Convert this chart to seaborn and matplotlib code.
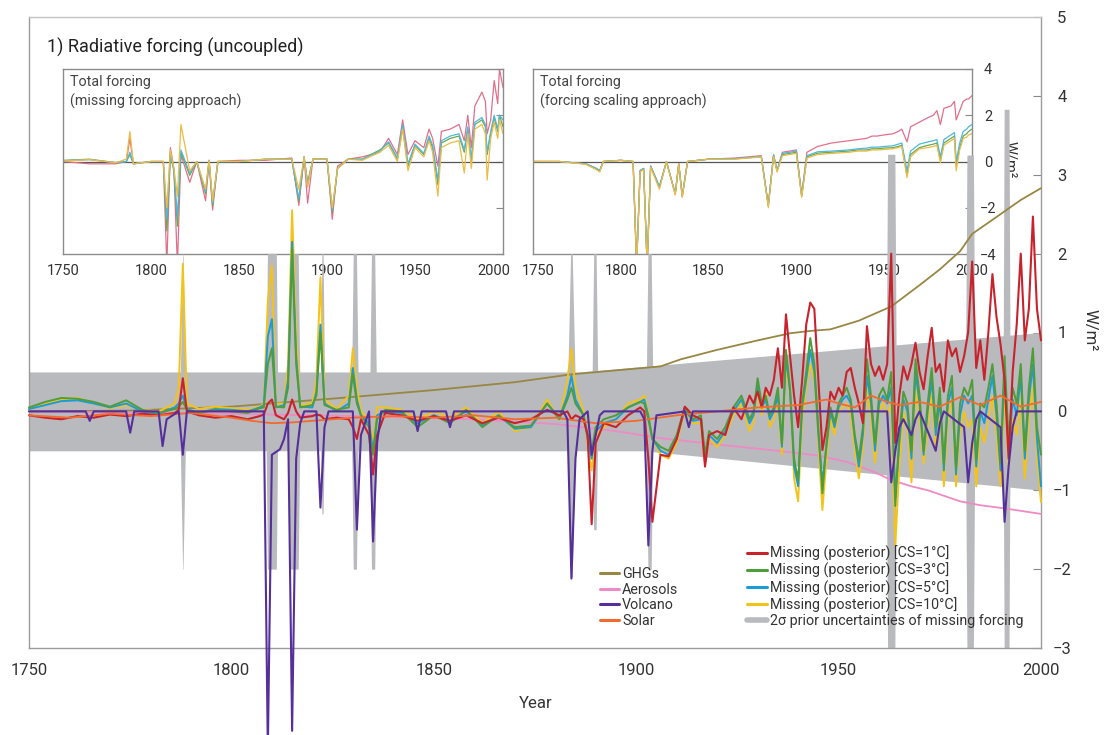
import matplotlib
matplotlib.use("Agg")
import matplotlib.pyplot as plt
import seaborn as sns
from matplotlib.lines import Line2D

# ---------------- data ----------------
XTICKS = [1750, 1800, 1850, 1900, 1950, 2000]

# Prior uncertainty band of the missing forcing (2 sigma)
BAND_YEARS = [1750, 1886, 1902, 2000]
BAND_UPPER = [0.5, 0.5, 0.57, 1.0]
BAND_LOWER = [-0.5, -0.5, -0.5, -1.0]

# Volcanic-year widening of the prior uncertainty
SPIKE_YEAR = [1788, 1810, 1815.5, 1822.5, 1830.5, 1835, 1884, 1889.8, 1903.3, 1963, 1982.5, 1991.5]
SPIKE_TOP = [2.0, 2.0, 2.0, 2.0, 2.0, 2.0, 2.0, 2.0, 2.0, 3.26, 3.25, 3.83]
SPIKE_BOTTOM = [-2.0, -2.0, -2.0, -1.3, -2.0, -2.0, -2.1, -1.5, -2.0, -3.0, -3.0, -3.0]
SPIKE_BASE_HW = [0.8, 1.5, 1.5, 0.6, 0.9, 0.9, 1.1, 0.8, 0.9, 1.3, 1.2, 0.9]
SPIKE_TIP_HW = [0.05, 1.1, 1.0, 0.15, 0.4, 0.4, 0.2, 0.3, 0.4, 0.9, 0.8, 0.6]

GHG_YEARS = [1750, 1775, 1800, 1827, 1850, 1870, 1884, 1895, 1906, 1911, 1920, 1930,
             1938, 1943, 1948, 1955, 1963, 1970, 1975, 1980, 1983, 1990, 1995, 2000]
GHG_VALS = [0.0, 0.01, 0.06, 0.17, 0.27, 0.37, 0.47, 0.52, 0.57, 0.66, 0.78, 0.9,
            0.99, 1.02, 1.04, 1.15, 1.33, 1.6, 1.8, 2.03, 2.25, 2.5, 2.68, 2.83]

AER_YEARS = [1750, 1800, 1830, 1860, 1880, 1895, 1906, 1920, 1935, 1945, 1952, 1958,
             1963, 1968, 1972, 1976, 1980, 1985, 1991, 2000]
AER_VALS = [0.0, -0.03, -0.06, -0.1, -0.16, -0.25, -0.34, -0.42, -0.5, -0.56, -0.64, -0.75,
            -0.87, -0.95, -1.0, -1.07, -1.14, -1.19, -1.23, -1.3]

SOLAR_YEARS = [1750, 1760, 1770, 1780, 1790, 1800, 1805, 1810, 1815, 1820, 1830, 1840,
               1850, 1860, 1870, 1880, 1890, 1900, 1910, 1920, 1930, 1940, 1947, 1950,
               1954, 1958, 1962, 1965, 1970, 1975, 1980, 1985, 1990, 1995, 2000]
SOLAR_VALS = [-0.05, -0.08, -0.03, -0.06, -0.02, -0.08, -0.12, -0.15, -0.14, -0.12, -0.08, -0.06,
              -0.08, -0.05, -0.1, -0.08, -0.15, -0.12, -0.05, 0.0, 0.05, 0.08, 0.15, 0.1,
              0.05, 0.2, 0.12, 0.08, 0.12, 0.06, 0.18, 0.08, 0.2, 0.06, 0.12]

VOLC_YEARS = [1750, 1764, 1765, 1766, 1774, 1775, 1776, 1782, 1783, 1784, 1787, 1788, 1789,
              1808, 1809, 1810, 1812, 1813, 1814, 1815, 1816, 1817, 1818, 1821, 1822, 1823,
              1824, 1830, 1831, 1832, 1834, 1835, 1836, 1837, 1845, 1846, 1847, 1853, 1854,
              1855, 1882, 1883, 1884, 1885, 1886, 1888, 1889, 1890, 1891, 1892, 1901, 1902,
              1903, 1904, 1905, 1912, 1913, 1914, 1962, 1963, 1964, 1965, 1966, 1968, 1969,
              1970, 1974, 1975, 1976, 1981, 1982, 1983, 1984, 1985, 1990, 1991, 1992, 1993,
              1994, 2000]
VOLC_VALS = [0, 0, -0.12, 0, 0, -0.27, 0, 0, -0.44, -0.1, 0, -0.55, 0,
             0, -4.3, -0.55, -0.48, -0.35, -0.1, -4.05, -0.6, -0.15, 0, 0, -1.22, -0.2,
             0, 0, -1.5, -0.3, 0, -1.65, -0.4, 0, 0, -0.25, 0, 0, -0.2,
             0, 0, -0.1, -2.12, -0.6, -0.1, 0, -0.55, -0.3, -0.05, 0, 0, -0.1,
             -1.7, -0.5, -0.05, 0, -0.2, 0, 0, -0.9, -0.5, -0.2, -0.1, -0.3, -0.1,
             0, -0.5, -0.15, 0, -0.2, -0.9, -0.4, -0.1, 0, -0.2, -1.4, -0.7, -0.2,
             0, 0]

MISS_YEARS = ([1750, 1754, 1758, 1762, 1766, 1770, 1774, 1778, 1782, 1786,
               1787, 1788, 1789, 1792, 1796, 1800, 1804, 1807, 1808, 1809,
               1810, 1811, 1813, 1814, 1815, 1816, 1817, 1820, 1821, 1822,
               1823, 1826, 1829, 1830, 1831, 1832, 1834, 1835, 1836, 1838,
               1842, 1846, 1850, 1854, 1858, 1862, 1866, 1870, 1874, 1878,
               1881, 1883, 1884, 1885, 1887, 1888, 1889, 1890, 1892, 1895,
               1898, 1901, 1902, 1903, 1904,
               1906, 1908, 1910, 1912, 1914, 1916, 1917, 1918, 1920, 1922, 1924, 1926, 1928]
              + list(range(1929, 2001)))

MISS_CS1 = [-0.05, -0.08, -0.10, -0.06, -0.08, -0.04, -0.06, -0.03, -0.05, -0.02,
            0.02, 0.42, 0.00, -0.05, -0.08, -0.06, -0.10, -0.06, -0.04, 0.10,
            0.15, -0.05, -0.10, -0.02, 0.15, 0.00, -0.08, -0.06, -0.04, -0.05,
            -0.10, -0.08, -0.10, -0.20, -0.35, -0.10, -0.30, -0.80, -0.30, -0.02,
            -0.05, -0.12, -0.06, -0.12, -0.05, -0.15, -0.08, -0.15, -0.10, 0.02,
            -0.05, 0.00, -0.10, -0.05, -0.10, -0.30, -1.43, -0.40, -0.15, -0.20,
            -0.05, 0.05, 0.00, -0.60, -1.40,
            -0.55, -0.57, -0.35, 0.06, -0.05, -0.10, -0.70, -0.30, -0.25, -0.30, 0.05, -0.10, 0.20,
            0.10, 0.25, 0.05, 0.30, 0.20, 0.40, 0.80, 0.30, 1.23, 0.70,
            0.20, -0.20, 0.40, 1.10, 1.38, 1.30, 0.40, -0.49, -0.20, 0.25,
            0.15, 0.30, 0.20, 0.50, 0.55, 0.30, 0.10, -0.15, 1.08, 0.60,
            0.45, 0.57, 0.40, 0.60, 2.00, -0.40, 0.20, 0.57, 0.40, 0.60,
            0.87, 0.50, 0.28, 0.70, 1.06, 0.50, 0.60, 0.25, 0.90, 0.70,
            0.80, 0.50, 0.70, 1.00, 1.90, 0.55, 0.90, 0.40, 1.00, 1.74,
            1.20, 0.85, 0.40, -0.60, 0.50, 1.10, 2.00, 0.90, 1.30, 2.47,
            1.30, 0.90]

MISS_CS3 = [0.05, 0.12, 0.17, 0.16, 0.12, 0.06, 0.14, 0.02, -0.02, 0.03,
            0.06, 0.12, 0.02, -0.02, 0.02, 0.00, -0.02, 0.04, 0.05, 0.60,
            0.80, 0.06, 0.05, 0.30, 2.05, 0.60, 0.05, 0.08, 0.20, 1.00,
            0.08, 0.02, 0.05, 0.47, 0.10, -0.05, -0.20, -0.55, -0.10, 0.02,
            0.00, -0.20, -0.05, -0.15, 0.02, -0.20, -0.05, -0.20, -0.18, 0.10,
            -0.10, 0.15, 0.30, 0.10, -0.05, -0.30, -0.50, -0.20, -0.10, -0.05,
            0.05, 0.12, 0.10, -0.10, -0.35,
            -0.45, -0.50, -0.30, 0.05, -0.10, -0.05, -0.55, -0.25, -0.35, -0.20, 0.05, 0.20, -0.10,
            0.00, 0.42, 0.10, 0.20, -0.05, 0.05, 0.30, -0.40, 0.78, 0.30,
            -0.60, -0.87, 0.10, 0.50, 0.93, 0.60, -0.20, -1.04, -0.40, 0.05,
            -0.15, 0.10, 0.20, 0.30, 0.15, -0.30, -0.60, -0.20, 0.66, 0.20,
            -0.40, 0.20, 0.30, 0.15, 0.50, -1.20, -0.30, 0.25, 0.10, -0.50,
            0.66, 0.20, -0.50, 0.10, 0.55, -0.20, 0.30, -0.65, 0.20, 0.45,
            -0.70, 0.10, 0.30, 0.20, 0.40, -0.60, 0.10, 0.05, 0.30, 0.60,
            0.10, -0.65, 0.70, -0.40, 0.30, 0.10, 0.60, -0.50, 0.30, 0.80,
            -0.20, -0.55]

MISS_CS5 = [0.03, 0.08, 0.13, 0.14, 0.10, 0.05, 0.10, 0.00, -0.03, 0.05,
            0.10, 0.20, 0.03, -0.02, 0.03, 0.02, 0.00, 0.05, 0.08, 0.95,
            1.17, 0.05, 0.08, 0.40, 2.15, 0.70, 0.06, 0.05, 0.25, 1.10,
            0.10, 0.00, 0.10, 0.55, 0.15, -0.05, -0.15, -0.50, -0.05, 0.00,
            -0.02, -0.15, -0.05, -0.12, 0.00, -0.18, -0.05, -0.22, -0.20, 0.10,
            -0.08, 0.20, 0.45, 0.15, -0.05, -0.35, -0.60, -0.25, -0.15, -0.10,
            0.05, 0.12, 0.15, -0.05, -0.35,
            -0.50, -0.55, -0.35, 0.02, -0.12, -0.10, -0.60, -0.30, -0.40, -0.25, 0.00, 0.15, -0.15,
            -0.05, 0.35, 0.05, 0.15, -0.10, 0.00, 0.20, -0.45, 0.70, 0.25,
            -0.70, -0.95, 0.05, 0.40, 0.78, 0.50, -0.30, -0.90, -0.45, 0.00,
            -0.20, 0.05, 0.15, 0.20, 0.10, -0.35, -0.70, -0.30, 0.45, 0.10,
            -0.50, 0.10, 0.20, 0.10, 0.30, -1.10, -0.40, 0.15, 0.00, -0.60,
            0.50, 0.10, -0.55, 0.00, 0.40, -0.30, 0.15, -0.75, 0.10, 0.30,
            -0.80, -0.05, 0.20, 0.10, 0.20, -0.70, 0.00, -0.15, 0.15, 0.45,
            -0.05, -0.75, 0.55, -0.50, 0.15, -0.05, 0.45, -0.60, 0.15, 0.60,
            -0.35, -0.95]

MISS_CS10 = [0.02, 0.10, 0.15, 0.17, 0.10, 0.04, 0.08, 0.02, 0.00, 0.10,
             0.30, 1.87, 0.10, 0.03, 0.06, 0.04, 0.02, 0.06, 0.10, 1.40,
             1.85, 0.10, 0.10, 0.60, 2.55, 1.00, 0.08, 0.10, 0.40, 1.70,
             0.15, 0.03, 0.20, 0.80, 0.30, 0.00, -0.10, -0.40, 0.05, 0.05,
             0.02, -0.10, 0.00, -0.08, 0.05, -0.15, 0.00, -0.25, -0.20, 0.15,
             -0.10, 0.40, 0.80, 0.30, 0.00, -0.40, -0.75, -0.30, -0.20, -0.10,
             0.10, 0.15, 0.20, 0.00, -0.35,
             -0.55, -0.60, -0.40, 0.00, -0.15, -0.15, -0.66, -0.35, -0.45, -0.30, -0.05, 0.10, -0.25,
             -0.15, 0.30, -0.05, 0.25, -0.20, -0.10, 0.10, -0.55, 0.60, 0.20,
             -0.85, -1.14, -0.10, 0.30, 0.60, 0.40, -0.40, -1.25, -0.60, -0.10,
             -0.30, 0.00, 0.05, 0.10, -0.05, -0.50, -0.85, -0.45, 0.30, -0.10,
             -0.65, 0.00, 0.10, -0.05, 0.10, -1.70, -0.70, 0.00, -0.20, -0.90,
             0.30, -0.10, -0.66, -0.20, 0.25, -0.50, 0.00, -0.95, -0.10, 0.15,
             -0.95, -0.25, 0.00, -0.20, -0.10, -0.95, -0.20, -0.40, -0.10, 0.20,
             -0.30, -0.95, 0.30, -0.70, -0.10, -0.30, 0.20, -0.85, -0.10, 0.35,
             -0.60, -1.15]

# Insets: total forcing
INSET_YEARS = [1750, 1765, 1780, 1786, 1788, 1790, 1800, 1807, 1809, 1811,
               1813, 1815, 1817, 1822, 1826, 1831, 1833, 1835, 1838, 1850,
               1865, 1880, 1884, 1887, 1889, 1892, 1900, 1903, 1906, 1912,
               1920, 1930, 1935, 1940, 1943, 1946, 1950, 1955, 1958, 1960,
               1963, 1965, 1970, 1975, 1978, 1980, 1982, 1984, 1988, 1990,
               1991, 1993, 1995, 1997, 1998, 2000]

MISSAPP_CS1 = [0.00, -0.10, -0.10, 0.00, 1.00, -0.10, 0.00, 0.00, -4.50, 0.60,
               -0.30, -4.50, 0.30, -0.90, 0.00, -1.70, 0.00, -2.10, 0.00, 0.05,
               0.05, 0.15, -1.90, 0.20, -1.80, 0.10, 0.10, -2.50, -0.20, 0.10,
               0.20, 0.40, 1.00, 0.30, 1.80, 0.30, 0.90, 0.60, 1.40, 1.00,
               -0.20, 1.30, 1.40, 1.60, 0.90, 2.00, 0.60, 2.40, 3.00, 2.60,
               1.20, 1.80, 3.50, 2.50, 4.00, 3.20]
MISSAPP_CS3 = [0.05, 0.10, -0.05, 0.00, 0.30, -0.10, 0.00, 0.00, -3.00, 0.30,
               -0.40, -2.80, 0.40, -0.60, 0.00, -1.40, 0.05, -1.90, 0.00, 0.00,
               0.10, 0.10, -1.70, 0.20, -0.90, 0.10, 0.10, -2.20, -0.30, 0.10,
               0.10, 0.50, 0.80, 0.10, 1.50, -0.20, 0.70, 0.30, 1.00, 0.60,
               -1.00, 0.80, 1.00, 1.10, 0.40, 1.40, 0.00, 1.60, 1.80, 1.50,
               0.30, 1.20, 1.90, 1.30, 2.00, 1.50]
MISSAPP_CS5 = [0.03, 0.08, -0.05, 0.00, 0.40, -0.10, 0.00, 0.00, -2.50, 0.40,
               -0.35, -2.40, 0.50, -0.50, 0.00, -1.30, 0.05, -1.80, 0.00, 0.00,
               0.10, 0.10, -1.60, 0.20, -1.00, 0.10, 0.10, -2.10, -0.30, 0.10,
               0.10, 0.45, 0.85, 0.15, 1.60, -0.10, 0.75, 0.35, 1.10, 0.70,
               -0.80, 0.90, 1.10, 1.20, 0.50, 1.50, 0.10, 1.70, 1.90, 1.60,
               0.40, 1.30, 2.00, 1.40, 2.00, 1.80]
MISSAPP_CS10 = [0.02, 0.08, -0.05, 0.10, 1.30, -0.10, 0.00, 0.00, -2.00, 0.50,
                -0.30, -1.50, 1.60, -0.40, 0.00, -1.20, 0.05, -1.70, 0.00, 0.00,
                0.10, 0.10, -1.20, 0.20, -1.10, 0.10, 0.10, -2.00, -0.30, 0.10,
                0.05, 0.40, 0.70, 0.00, 1.40, -0.40, 0.60, 0.20, 0.90, 0.40,
                -1.50, 0.60, 0.80, 0.90, -0.50, 1.20, -0.30, 1.40, 1.60, 1.20,
                -0.80, 1.00, 1.70, 1.00, 1.80, 1.20]

SCALEAPP_CS1 = [0.00, 0.00, -0.10, -0.30, -0.40, 0.00, 0.05, 0.00, -4.50, -0.40,
                -0.30, -4.50, -0.20, -1.10, 0.00, -1.40, -0.10, -1.50, 0.00, 0.10,
                0.15, 0.25, -1.90, 0.30, -0.40, 0.40, 0.50, -1.45, 0.40, 0.65,
                0.80, 0.90, 0.95, 1.00, 1.10, 1.10, 1.15, 1.20, 1.30, 1.40,
                0.85, 1.50, 1.70, 1.90, 2.00, 2.20, 1.60, 2.30, 2.40, 2.60,
                1.80, 2.20, 2.60, 2.70, 2.70, 2.85]
SCALEAPP_CS3 = [0.00, 0.00, -0.10, -0.30, -0.40, 0.00, 0.05, 0.00, -4.50, -0.40,
                -0.30, -4.50, -0.20, -1.10, 0.00, -1.40, -0.10, -1.50, 0.00, 0.10,
                0.12, 0.20, -1.90, 0.25, -0.40, 0.30, 0.40, -1.50, 0.20, 0.36,
                0.40, 0.45, 0.50, 0.50, 0.55, 0.55, 0.58, 0.60, 0.65, 0.70,
                -0.58, 0.30, 0.60, 0.70, 0.75, 0.80, 0.07, 0.80, 1.00, 1.10,
                -0.20, 0.60, 1.10, 1.20, 1.30, 1.40]
SCALEAPP_CS5 = [0.00, 0.00, -0.10, -0.30, -0.40, 0.00, 0.05, 0.00, -4.50, -0.40,
                -0.30, -4.50, -0.20, -1.10, 0.00, -1.40, -0.10, -1.50, 0.00, 0.10,
                0.12, 0.22, -1.90, 0.28, -0.40, 0.35, 0.45, -1.50, 0.25, 0.42,
                0.45, 0.50, 0.55, 0.58, 0.62, 0.62, 0.65, 0.68, 0.75, 0.80,
                -0.40, 0.45, 0.75, 0.85, 0.90, 0.95, 0.20, 0.95, 1.15, 1.25,
                0.00, 0.80, 1.30, 1.40, 1.50, 1.60]
SCALEAPP_CS10 = [0.00, 0.00, -0.12, -0.35, -0.45, 0.00, 0.05, 0.00, -4.50, -0.45,
                 -0.35, -4.50, -0.25, -1.20, 0.00, -1.45, -0.10, -1.55, 0.00, 0.10,
                 0.10, 0.20, -2.00, 0.22, -0.45, 0.25, 0.35, -1.55, 0.15, 0.30,
                 0.35, 0.40, 0.45, 0.45, 0.50, 0.50, 0.52, 0.55, 0.60, 0.65,
                 -0.70, 0.20, 0.55, 0.60, 0.65, 0.70, -0.05, 0.70, 0.90, 1.00,
                 -0.40, 0.50, 1.00, 1.05, 1.15, 1.20]

FORCING_LABELS = ["GHGs", "Aerosols", "Volcano", "Solar"]
MISSING_LABELS = ["Missing (posterior) [CS=1°C]", "Missing (posterior) [CS=3°C]",
                  "Missing (posterior) [CS=5°C]", "Missing (posterior) [CS=10°C]",
                  "2σ prior uncertainties of missing forcing"]

# ---------------- style ----------------
C_RED, C_GREEN, C_BLUE, C_YELLOW = "#c8232c", "#4f9d3a", "#1d9bd7", "#f3c31a"
C_GHG, C_AER, C_VOLC, C_SOLAR = "#978744", "#ee8ac4", "#55309a", "#f26a2e"
C_GREY = "#b9babd"
I_RED, I_GREEN, I_BLUE, I_YELLOW = "#e0708a", "#6aa84f", "#4fb8dc", "#eebb44"
TXT = "#333333"

sns.set_theme(style="white")
plt.rcParams["font.family"] = ["Roboto", "DejaVu Sans"]
plt.rcParams["axes.unicode_minus"] = True

W, H = 1105, 735
fig = plt.figure(figsize=(W / 100, H / 100), dpi=100)
fig.patch.set_facecolor("white")


def box(x0, y0, x1, y1):
    return [x0 / W, 1 - y1 / H, (x1 - x0) / W, (y1 - y0) / H]


ax = fig.add_axes(box(29, 17, 1041, 648))
ax1 = fig.add_axes(box(63, 69, 503, 254))
ax2 = fig.add_axes(box(533, 69, 972, 254))
ax.set_zorder(5)
ax.patch.set_visible(False)

# ---------------- insets ----------------
for a, series in ((ax1, (MISSAPP_CS1, MISSAPP_CS3, MISSAPP_CS5, MISSAPP_CS10)),
                  (ax2, (SCALEAPP_CS1, SCALEAPP_CS3, SCALEAPP_CS5, SCALEAPP_CS10))):
    a.set_zorder(1)
    a.set_facecolor("white")
    a.axhline(0, color="#555555", lw=0.9, zorder=1)
    for vals, col in zip(series, (I_RED, I_GREEN, I_BLUE, I_YELLOW)):
        sns.lineplot(x=INSET_YEARS, y=vals, ax=a, color=col, linewidth=0.9, zorder=2)
    a.set_xlim(1750, 2000)
    a.set_ylim(-4, 4)
    a.set_xticks(XTICKS)
    a.set_yticks([-4, -2, 0, 2, 4])
    a.yaxis.tick_right()
    a.tick_params(axis="x", direction="in", length=5, width=0.8, color="#888888",
                  labelsize=10.5, pad=7, labelcolor=TXT)
    a.tick_params(axis="y", direction="in", length=5, width=0.8, color="#888888",
                  labelsize=10.5, pad=11.5, labelcolor=TXT, left=False, right=True)
    a.set_xlabel("")
    a.set_ylabel("")
    for s in a.spines.values():
        s.set_color("#8c8c8c")
        s.set_linewidth(1.0)

# end labels of the two insets sit slightly inward (as in the original layout)
ax1.set_xticklabels([str(t) for t in XTICKS[:-1]] + [""])
ax2.set_xticklabels([""] + [str(t) for t in XTICKS[1:]])
ax1.annotate(str(XTICKS[-1]), xy=(XTICKS[-1], -4), xytext=(-6.5, -7), textcoords="offset points",
             ha="center", va="top", fontsize=10.5, color=TXT, annotation_clip=False)
ax2.annotate(str(XTICKS[0]), xy=(XTICKS[0], -4), xytext=(3.5, -7), textcoords="offset points",
             ha="center", va="top", fontsize=10.5, color=TXT, annotation_clip=False)

ax1.tick_params(axis="y", labelright=False)
for t in ax2.get_yticklabels():
    t.set_horizontalalignment("center")

ax1.text(0.016, 0.965, "Total forcing\n(missing forcing approach)", transform=ax1.transAxes,
         va="top", ha="left", fontsize=10.3, linespacing=1.35, color="#444444")
ax2.text(0.016, 0.965, "Total forcing\n(forcing scaling approach)", transform=ax2.transAxes,
         va="top", ha="left", fontsize=10.3, linespacing=1.35, color="#444444")
fig.text(1010 / W, 1 - 160 / H, "W/m²", rotation=270, ha="center", va="center",
         fontsize=10.5, color=TXT)

# ---------------- main panel ----------------
ax.fill_between(BAND_YEARS, BAND_LOWER, BAND_UPPER, color=C_GREY, lw=0, zorder=1)
for c, top, bot, bw, tw in zip(SPIKE_YEAR, SPIKE_TOP, SPIKE_BOTTOM, SPIKE_BASE_HW, SPIKE_TIP_HW):
    ax.fill_between([c - bw, c - tw, c + tw, c + bw], [0, bot, bot, 0], [0, top, top, 0],
                    color=C_GREY, lw=0, zorder=1, clip_on=False)

line_specs = [
    (GHG_YEARS, GHG_VALS, C_GHG, 1.3, 3),
    (AER_YEARS, AER_VALS, C_AER, 1.3, 3),
    (MISS_YEARS, MISS_CS10, C_YELLOW, 1.4, 4),
    (MISS_YEARS, MISS_CS5, C_BLUE, 1.4, 4.1),
    (MISS_YEARS, MISS_CS3, C_GREEN, 1.4, 4.2),
    (MISS_YEARS, MISS_CS1, C_RED, 1.5, 4.3),
    (SOLAR_YEARS, SOLAR_VALS, C_SOLAR, 1.3, 4.5),
    (VOLC_YEARS, VOLC_VALS, C_VOLC, 1.5, 4.6),
]
for xs, ys, col, lw, z in line_specs:
    sns.lineplot(x=xs, y=ys, ax=ax, color=col, linewidth=lw, zorder=z, clip_on=False)

ax.set_xlim(1750, 2000)
ax.set_ylim(-3, 5)
ax.set_xticks(XTICKS)
ax.set_yticks(list(range(-3, 6)))
ax.yaxis.tick_right()
ax.tick_params(axis="x", direction="in", length=6, width=0.8, color="#888888",
               labelsize=12, pad=11, labelcolor=TXT)
ax.tick_params(axis="y", direction="in", length=6, width=0.8, color="#888888",
               labelsize=12, pad=15, labelcolor=TXT, left=False, right=True)
for t in ax.get_yticklabels():
    t.set_horizontalalignment("center")
ax.set_xlabel("")
ax.set_ylabel("")
for name, s in ax.spines.items():
    s.set_color("#c4c4c4" if name == "top" else "#9c9c9c")
    s.set_linewidth(1.0)

fig.text(536 / W, 1 - 704 / H, "Year", ha="center", va="center", fontsize=12, color=TXT)
fig.text(1090 / W, 1 - 330 / H, "W/m²", rotation=270, ha="center", va="center",
         fontsize=12, color=TXT)
fig.text(47 / W, 1 - 47 / H, "1) Radiative forcing (uncoupled)", ha="left", va="center",
         fontsize=13, color="#222222")

# ---------------- legends ----------------
h1 = [Line2D([], [], color=c, lw=2.2) for c in (C_GHG, C_AER, C_VOLC, C_SOLAR)]
leg1 = fig.legend(h1, FORCING_LABELS, loc="upper left", bbox_to_anchor=(600 / W, 1 - 567 / H),
                  frameon=False, fontsize=10.3, handlelength=1.3, handletextpad=0.25,
                  labelspacing=0.12, borderpad=0, borderaxespad=0)
h2 = [Line2D([], [], color=c, lw=2.2) for c in (C_RED, C_GREEN, C_BLUE, C_YELLOW)]
h2.append(Line2D([], [], color=C_GREY, lw=4))
leg2 = fig.legend(h2, MISSING_LABELS, loc="upper left", bbox_to_anchor=(747 / W, 1 - 546 / H),
                  frameon=False, fontsize=10.3, handlelength=1.4, handletextpad=0.2,
                  labelspacing=0.12, borderpad=0, borderaxespad=0)
for lg in (leg1, leg2):
    lg.set_zorder(10)
    for t in lg.get_texts():
        t.set_color(TXT)

fig.savefig("out.png", dpi=100, facecolor="white")
